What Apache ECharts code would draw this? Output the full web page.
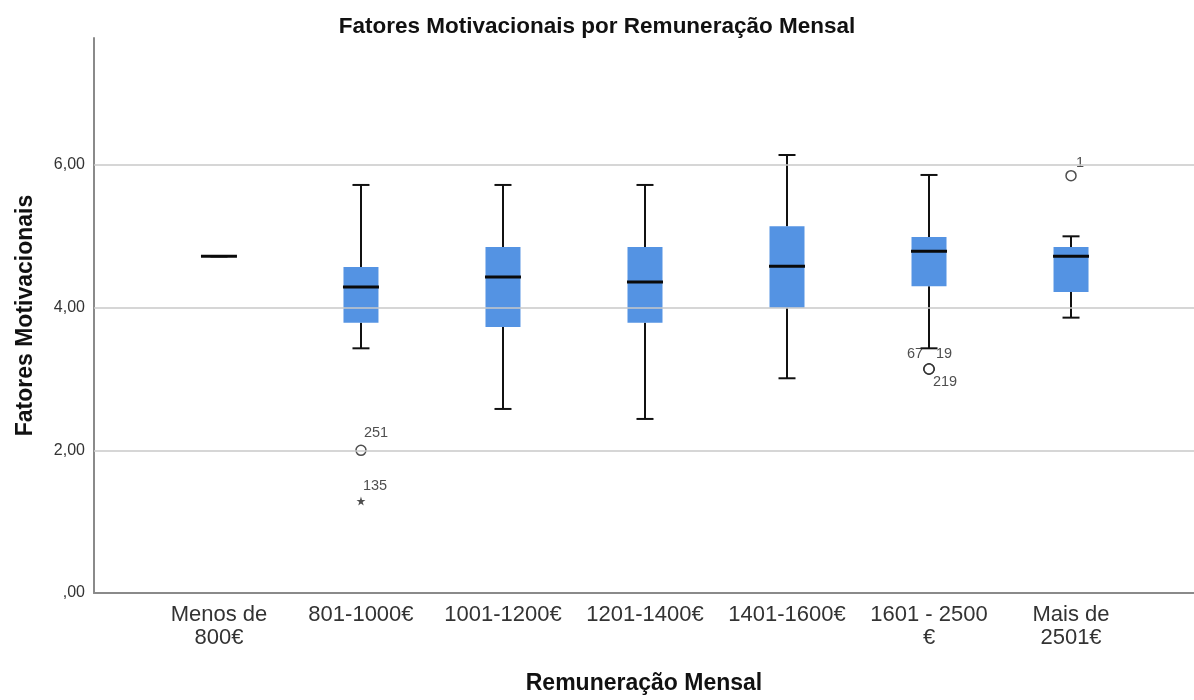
<!DOCTYPE html>
<html>
<head>
<meta charset="utf-8">
<script src="https://cdn.jsdelivr.net/npm/echarts@6/dist/echarts.min.js"></script>
<style>
html,body{margin:0;padding:0;background:#fff;}
#chart{width:1194px;height:700px;}
</style>
</head>
<body>
<div id="chart"></div>
<script>
// ---- data ----
const categories = ['Menos de\n800€', '801-1000€', '1001-1200€', '1201-1400€', '1401-1600€', '1601 - 2500\n€', 'Mais de\n2501€'];
const whiskerLow  = [4.72, 3.43, 2.58, 2.44, 3.01, 3.43, 3.86];
const q1          = [4.72, 3.79, 3.73, 3.79, 4.00, 4.30, 4.22];
const medians     = [4.72, 4.29, 4.43, 4.36, 4.58, 4.79, 4.72];
const q3          = [4.72, 4.57, 4.85, 4.85, 5.14, 4.99, 4.85];
const whiskerHigh = [4.72, 5.72, 5.72, 5.72, 6.14, 5.86, 5.00];

const outlierCat     = [1, 1, 5, 5, 5, 6];
const outlierVal     = [2.00, 1.29, 3.14, 3.14, 3.14, 5.85];
const outlierId      = ['251', '135', '67', '19', '219', '1'];
const outlierExtreme = [false, true, false, false, false, false];

const yTicks = [0, 2, 4, 6];
const yMax = 7.78;

// ---- styling ----
const FONT = '"Liberation Sans", Arial, sans-serif';
const labelOffsets = {'251': [15, -17], '135': [14, -15], '67': [-14, -15], '19': [15, -15], '219': [16, 13], '1': [9, -13]};
const starPath = 'path://M50,0 L61,35 L98,35 L68,57 L79,91 L50,70 L21,91 L32,57 L2,35 L39,35 Z';

const boxData = categories.map((c, i) => [i, whiskerLow[i], q1[i], medians[i], q3[i], whiskerHigh[i]]);
const outlierData = outlierCat.map((c, i) => ({
  value: [c, outlierVal[i]],
  name: outlierId[i],
  symbol: outlierExtreme[i] ? starPath : 'circle',
  symbolSize: outlierExtreme[i] ? 9 : 10,
  itemStyle: outlierExtreme[i] ? {color: '#222', borderWidth: 0} : {color: '#fff', borderColor: '#222', borderWidth: 1.5},
  label: {offset: labelOffsets[outlierId[i]] || [10, -12]}
}));

function fmtY(v) {
  if (yTicks.indexOf(v) < 0) return '';
  return v.toFixed(2).replace('.', ',').replace(/^0,/, ',');
}

const chart = echarts.init(document.getElementById('chart'), null, {renderer: 'canvas'});
chart.setOption({
  backgroundColor: '#fff',
  animation: false,
  title: {
    text: 'Fatores Motivacionais por Remuneração Mensal',
    left: 'center', top: 10,
    textStyle: {fontFamily: FONT, fontSize: 22.5, fontWeight: 'bold', color: '#111'}
  },
  grid: {left: 94, right: 0, top: 38, bottom: 105},
  xAxis: {
    type: 'value',
    min: -0.88, max: 6.866,
    name: 'Remuneração Mensal',
    nameLocation: 'middle',
    nameGap: 79,
    nameTextStyle: {fontFamily: FONT, fontSize: 23, fontWeight: 'bold', color: '#111'},
    axisLine: {show: true, onZero: false, lineStyle: {color: '#8a8a8a', width: 2}},
    axisTick: {show: false},
    splitLine: {show: false},
    axisLabel: {
      customValues: categories.map((c, i) => i),
      formatter: v => categories[Math.round(v)] || '',
      fontFamily: FONT, fontSize: 22, color: '#333', lineHeight: 23, margin: 10,
      showMinLabel: true, showMaxLabel: true
    }
  },
  yAxis: {
    type: 'value',
    min: 0, max: yMax, interval: 2,
    name: 'Fatores Motivacionais',
    nameLocation: 'middle',
    nameGap: 57,
    nameTextStyle: {fontFamily: FONT, fontSize: 23, fontWeight: 'bold', color: '#111'},
    axisLine: {show: true, onZero: false, lineStyle: {color: '#8a8a8a', width: 2}},
    axisTick: {show: false},
    splitLine: {show: false},
    axisLabel: {formatter: fmtY, fontFamily: FONT, fontSize: 16, color: '#333', margin: 9}
  },
  series: [
    {
      type: 'custom',
      data: boxData,
      encode: {x: 0, y: [1, 2, 3, 4, 5]},
      z: 3,
      markLine: {
        silent: true, symbol: 'none', label: {show: false},
        lineStyle: {color: '#c8c8c8', width: 1.5, type: 'solid'},
        data: yTicks.filter(v => v > 0).map(v => ({yAxis: v}))
      },
      renderItem: function (params, api) {
        const x = api.value(0);
        const lo = api.coord([x, api.value(1)]);
        const b1 = api.coord([x, api.value(2)]);
        const md = api.coord([x, api.value(3)]);
        const b3 = api.coord([x, api.value(4)]);
        const hi = api.coord([x, api.value(5)]);
        const cx = lo[0], bw = 35, cw = 17;
        const ls = {stroke: '#111', lineWidth: 2};
        return {
          type: 'group',
          children: [
            {type: 'line', shape: {x1: cx, y1: hi[1], x2: cx, y2: b3[1]}, style: ls},
            {type: 'line', shape: {x1: cx, y1: b1[1], x2: cx, y2: lo[1]}, style: ls},
            {type: 'line', shape: {x1: cx - cw / 2, y1: hi[1], x2: cx + cw / 2, y2: hi[1]}, style: ls},
            {type: 'line', shape: {x1: cx - cw / 2, y1: lo[1], x2: cx + cw / 2, y2: lo[1]}, style: ls},
            {type: 'rect', shape: {x: cx - bw / 2, y: b3[1], width: bw, height: b1[1] - b3[1]}, style: {fill: '#5493e3', stroke: null}},
            {type: 'line', shape: {x1: cx - 18, y1: md[1], x2: cx + 18, y2: md[1]}, style: {stroke: '#0a0a0a', lineWidth: 3}}
          ]
        };
      }
    },
    {
      type: 'scatter',
      data: outlierData,
      z: 4,
      label: {
        show: true, position: 'inside',
        formatter: p => p.name,
        fontFamily: FONT, fontSize: 14.5, color: '#222'
      }
    }
  ]
});
</script>
</body>
</html>
